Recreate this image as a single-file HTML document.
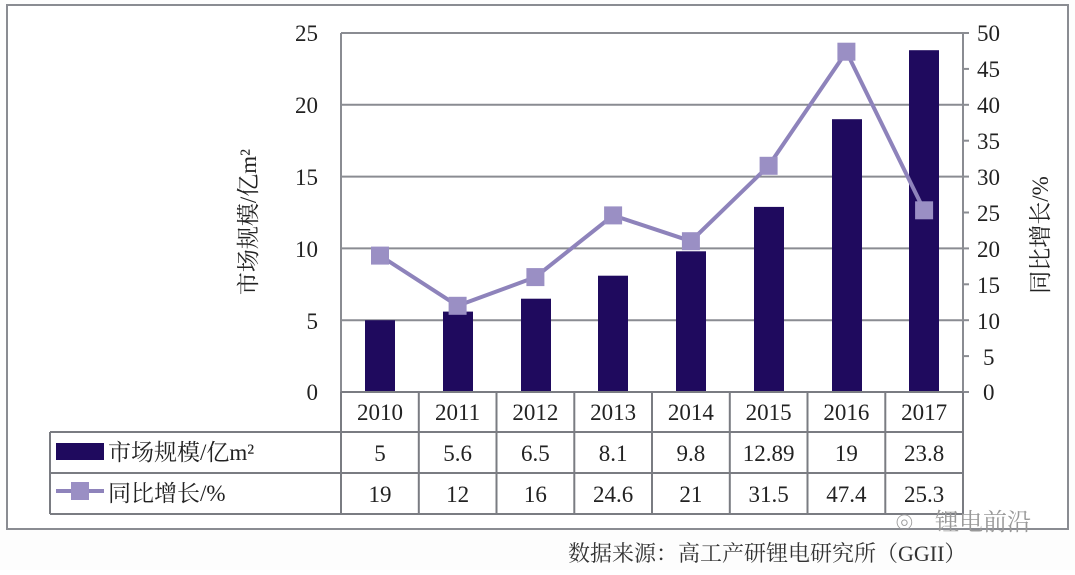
<!DOCTYPE html>
<html><head><meta charset="utf-8"><style>
body{margin:0;background:#fff;}
svg text{font-family:"Liberation Serif","Noto Serif CJK SC",serif;fill:#222;}
</style></head><body>
<svg width="1075" height="570" viewBox="0 0 1075 570" xmlns="http://www.w3.org/2000/svg">
<rect x="0" y="0" width="1075" height="570" fill="#fdfdfd"/>
<rect x="7" y="5" width="1061" height="524" fill="#fff" stroke="#8a8c92" stroke-width="2"/>
<g stroke="#8a8c92" stroke-width="2">
<line x1="341" y1="33" x2="963" y2="33"/>
<line x1="341" y1="104.8" x2="963" y2="104.8"/>
<line x1="341" y1="176.6" x2="963" y2="176.6"/>
<line x1="341" y1="248.4" x2="963" y2="248.4"/>
<line x1="341" y1="320.2" x2="963" y2="320.2"/>
<line x1="341" y1="33" x2="341" y2="392"/>
<line x1="963" y1="33" x2="963" y2="392"/>
</g>
<g stroke="#8a8c92" stroke-width="2">
<line x1="963" y1="33" x2="969" y2="33"/><line x1="963" y1="68.9" x2="969" y2="68.9"/>
<line x1="963" y1="104.8" x2="969" y2="104.8"/><line x1="963" y1="140.7" x2="969" y2="140.7"/>
<line x1="963" y1="176.6" x2="969" y2="176.6"/><line x1="963" y1="212.5" x2="969" y2="212.5"/>
<line x1="963" y1="248.4" x2="969" y2="248.4"/><line x1="963" y1="284.3" x2="969" y2="284.3"/>
<line x1="963" y1="320.2" x2="969" y2="320.2"/><line x1="963" y1="356.1" x2="969" y2="356.1"/>
<line x1="963" y1="392" x2="969" y2="392"/>
</g>
<g fill="#1f0a5e">
<rect x="365" y="320.2" width="30" height="71.8"/>
<rect x="443" y="311.6" width="30" height="80.4"/>
<rect x="521" y="298.7" width="30" height="93.3"/>
<rect x="598" y="275.7" width="30" height="116.3"/>
<rect x="676" y="251.3" width="30" height="140.7"/>
<rect x="754" y="206.9" width="30" height="185.1"/>
<rect x="832" y="119.2" width="30" height="272.8"/>
<rect x="909" y="50.2" width="30" height="341.8"/>
</g>
<polyline fill="none" stroke="#8e83bb" stroke-width="4" points="380,255.6 457.6,305.8 535.4,277.1 613.1,215.4 690.9,241.2 768.6,165.8 846.4,51.7 924.1,210.3"/>
<g fill="#9a8fc4">
<rect x="371" y="246.6" width="18" height="18"/>
<rect x="448.6" y="296.8" width="18" height="18"/>
<rect x="526.4" y="268.1" width="18" height="18"/>
<rect x="604.1" y="206.4" width="18" height="18"/>
<rect x="681.9" y="232.2" width="18" height="18"/>
<rect x="759.6" y="156.8" width="18" height="18"/>
<rect x="837.4" y="42.7" width="18" height="18"/>
<rect x="915.1" y="201.3" width="18" height="18"/>
</g>
<g stroke="#7a7c82" stroke-width="2" fill="none">
<line x1="341" y1="392" x2="963" y2="392"/>
<line x1="50" y1="432" x2="963" y2="432"/>
<line x1="50" y1="473" x2="963" y2="473"/>
<line x1="50" y1="514" x2="963" y2="514"/>
<line x1="50" y1="432" x2="50" y2="514"/>
<line x1="341" y1="392" x2="341" y2="514"/>
<line x1="418.8" y1="392" x2="418.8" y2="514"/>
<line x1="496.5" y1="392" x2="496.5" y2="514"/>
<line x1="574.3" y1="392" x2="574.3" y2="514"/>
<line x1="652" y1="392" x2="652" y2="514"/>
<line x1="729.8" y1="392" x2="729.8" y2="514"/>
<line x1="807.5" y1="392" x2="807.5" y2="514"/>
<line x1="885.3" y1="392" x2="885.3" y2="514"/>
<line x1="963" y1="392" x2="963" y2="514"/>
</g>
<g font-size="23" text-anchor="middle">
<text x="380" y="420">2010</text><text x="457.6" y="420">2011</text><text x="535.4" y="420">2012</text><text x="613.1" y="420">2013</text><text x="690.9" y="420">2014</text><text x="768.6" y="420">2015</text><text x="846.4" y="420">2016</text><text x="924.1" y="420">2017</text>
<text x="380" y="461">5</text><text x="457.6" y="461">5.6</text><text x="535.4" y="461">6.5</text><text x="613.1" y="461">8.1</text><text x="690.9" y="461">9.8</text><text x="768.6" y="461">12.89</text><text x="846.4" y="461">19</text><text x="924.1" y="461">23.8</text>
<text x="380" y="502">19</text><text x="457.6" y="502">12</text><text x="535.4" y="502">16</text><text x="613.1" y="502">24.6</text><text x="690.9" y="502">21</text><text x="768.6" y="502">31.5</text><text x="846.4" y="502">47.4</text><text x="924.1" y="502">25.3</text>
</g>
<rect x="56" y="443" width="48" height="17" fill="#1f0a5e"/>
<text x="108" y="460" font-size="23">市场规模/亿m²</text>
<line x1="56" y1="491" x2="104" y2="491" stroke="#8e83bb" stroke-width="4"/>
<rect x="71" y="482" width="18" height="18" fill="#9a8fc4"/>
<text x="108" y="501" font-size="23">同比增长/%</text>
<g font-size="23" text-anchor="end">
<text x="318" y="41">25</text><text x="318" y="113">20</text><text x="318" y="185">15</text><text x="318" y="257">10</text><text x="318" y="329">5</text><text x="318" y="400">0</text>
</g>
<g font-size="23" text-anchor="start">
<text x="977" y="41">50</text><text x="977" y="77">45</text><text x="977" y="113">40</text><text x="977" y="149">35</text><text x="977" y="185">30</text><text x="977" y="221">25</text><text x="977" y="257">20</text><text x="977" y="293">15</text><text x="977" y="329">10</text><text x="983" y="365">5</text><text x="983" y="400">0</text>
</g>
<text transform="translate(256,222) rotate(-90)" font-size="23" text-anchor="middle">市场规模/亿m²</text>
<text transform="translate(1048,235) rotate(-90)" font-size="23" text-anchor="middle">同比增长/%</text>
<text x="896" y="532" font-size="28" style="fill:#999">⌾</text>
<text x="935" y="530" font-size="24" style="fill:#999">锂电前沿</text>
<text x="568" y="561" font-size="22" style="fill:#333">数据来源：高工产研锂电研究所（GGII）</text>
</svg>
</body></html>
